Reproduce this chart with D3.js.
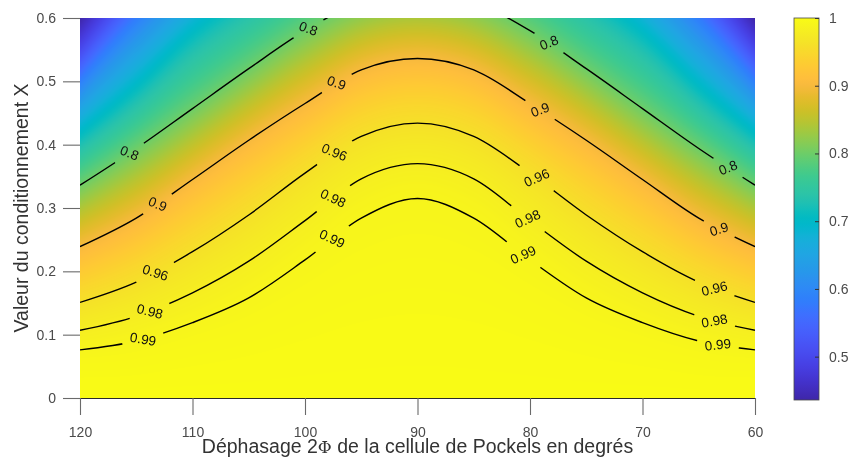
<!DOCTYPE html>
<html><head><meta charset="utf-8">
<script src="https://cdn.jsdelivr.net/npm/d3@7"></script>
<style>
body{margin:0;background:#fff;}
#wrap{position:relative;width:849px;height:459px;overflow:hidden;}
#heat{position:absolute;left:80px;top:18px;}
#chart{position:absolute;left:0;top:0;}
</style>
</head><body>
<div id="wrap"><canvas id="heat" width="675" height="380"></canvas><svg id="chart" width="849" height="459"></svg></div>
<script>
// ---------- data ----------
const phases = [60, 65, 70, 75, 80, 85, 90, 95, 100, 105, 110, 115, 120];
const levelValues = [1.0, 0.99, 0.98, 0.96, 0.9, 0.8, 0.7, 0.6, 0.5, 0.43];
// y (Valeur X) where each level is reached, per phase column
const y100 = [0,0,0,0,0,0,0,0,0,0,0,0,0];
const y099 = [0.076,0.090,0.119,0.158,0.218,0.284,0.315,0.284,0.218,0.158,0.119,0.090,0.076];
const y098 = [0.107,0.129,0.166,0.216,0.280,0.346,0.370,0.346,0.280,0.216,0.166,0.129,0.107];
const y096 = [0.151,0.183,0.231,0.289,0.355,0.413,0.434,0.413,0.355,0.289,0.231,0.183,0.151];
const y090 = [0.239,0.284,0.345,0.407,0.465,0.518,0.536,0.518,0.465,0.407,0.345,0.284,0.239];
const y080 = [0.336,0.394,0.457,0.520,0.580,0.625,0.640,0.625,0.580,0.520,0.457,0.394,0.336];
const y070 = [0.420,0.495,0.580,0.645,0.700,0.745,0.760,0.745,0.700,0.645,0.580,0.495,0.420];
const y060 = [0.490,0.585,0.670,0.740,0.800,0.845,0.860,0.845,0.800,0.740,0.670,0.585,0.490];
const y050 = [0.550,0.660,0.760,0.830,0.890,0.930,0.950,0.930,0.890,0.830,0.760,0.660,0.550];
const y043 = [0.605,0.720,0.820,0.900,0.950,0.990,1.000,0.990,0.950,0.900,0.820,0.720,0.605];
const levelY = [y100, y099, y098, y096, y090, y080, y070, y060, y050, y043];

const contourLevels = [0.8, 0.9, 0.96, 0.98, 0.99];
const contourLabelText = ["0.8", "0.9", "0.96", "0.98", "0.99"];
const label080 = [115.6, 99.7, 78.3, 62.4];
const label090 = [113.1, 97.2, 79.1, 63.2];
const label096 = [113.3, 97.4, 79.4, 63.6];
const label098 = [113.8, 97.5, 80.2, 63.6];
const label099 = [114.4, 97.6, 80.6, 63.3];
const labelPhases = [label080, label090, label096, label098, label099];

const xTicks = [120, 110, 100, 90, 80, 70, 60];
const yTicks = [0, 0.1, 0.2, 0.3, 0.4, 0.5, 0.6];
const cTicks = [0.5, 0.6, 0.7, 0.8, 0.9, 1];
const cMin = 0.436, cMax = 1;

const xTitle = "Déphasage 2";
const xTitlePhi = "Φ";
const xTitleRest = " de la cellule de Pockels en degrés";
const yTitle = "Valeur du conditionnement X";

// parula colormap
const parula = [[0.2422,0.1504,0.6603],[0.2504,0.1650,0.7076],[0.2578,0.1818,0.7511],[0.2647,0.1978,0.7952],[0.2706,0.2147,0.8364],[0.2751,0.2342,0.8710],[0.2783,0.2559,0.8991],[0.2803,0.2782,0.9221],[0.2813,0.3006,0.9414],[0.2810,0.3228,0.9579],[0.2795,0.3447,0.9717],[0.2760,0.3667,0.9829],[0.2699,0.3892,0.9906],[0.2602,0.4123,0.9952],[0.2440,0.4358,0.9988],[0.2206,0.4603,0.9973],[0.1963,0.4847,0.9892],[0.1834,0.5074,0.9798],[0.1786,0.5289,0.9682],[0.1764,0.5499,0.9520],[0.1687,0.5703,0.9359],[0.1540,0.5902,0.9218],[0.1460,0.6091,0.9079],[0.1380,0.6276,0.8973],[0.1248,0.6459,0.8883],[0.1113,0.6635,0.8763],[0.0952,0.6798,0.8598],[0.0689,0.6948,0.8394],[0.0297,0.7082,0.8163],[0.0036,0.7203,0.7917],[0.0067,0.7312,0.7660],[0.0433,0.7411,0.7394],[0.0964,0.7500,0.7120],[0.1408,0.7584,0.6842],[0.1717,0.7670,0.6554],[0.1938,0.7758,0.6251],[0.2161,0.7843,0.5923],[0.2470,0.7918,0.5567],[0.2906,0.7973,0.5188],[0.3406,0.8008,0.4789],[0.3909,0.8029,0.4354],[0.4456,0.8024,0.3909],[0.5044,0.7993,0.3480],[0.5616,0.7942,0.3045],[0.6174,0.7876,0.2612],[0.6720,0.7793,0.2227],[0.7242,0.7698,0.1910],[0.7738,0.7598,0.1646],[0.8203,0.7498,0.1535],[0.8634,0.7406,0.1596],[0.9035,0.7330,0.1774],[0.9393,0.7288,0.2100],[0.9728,0.7298,0.2394],[0.9956,0.7434,0.2371],[0.9970,0.7659,0.2199],[0.9952,0.7893,0.2028],[0.9892,0.8136,0.1885],[0.9786,0.8386,0.1766],[0.9676,0.8639,0.1643],[0.9610,0.8890,0.1537],[0.9597,0.9135,0.1423],[0.9628,0.9373,0.1265],[0.9691,0.9606,0.1064],[0.9769,0.9839,0.0805]];

// ---------- helpers ----------
function monotone(xs, ys) {
  const n = xs.length, m = new Array(n).fill(0);
  for (let i = 1; i < n - 1; i++) {
    const h0 = xs[i] - xs[i-1], h1 = xs[i+1] - xs[i];
    const s0 = (ys[i] - ys[i-1]) / h0, s1 = (ys[i+1] - ys[i]) / h1;
    const p = (s0 * h1 + s1 * h0) / (h0 + h1);
    m[i] = (Math.sign(s0) + Math.sign(s1)) * Math.min(Math.abs(s0), Math.abs(s1), 0.5 * Math.abs(p)) || 0;
  }
  m[0] = (3 * (ys[1] - ys[0]) / (xs[1] - xs[0]) - m[1]) / 2;
  m[n-1] = (3 * (ys[n-1] - ys[n-2]) / (xs[n-1] - xs[n-2]) - m[n-2]) / 2;
  return function(xv) {
    if (xv <= xs[0]) return ys[0];
    if (xv >= xs[n-1]) return ys[n-1];
    let i = 0;
    while (i < n - 2 && xv > xs[i+1]) i++;
    const h = xs[i+1] - xs[i], t = (xv - xs[i]) / h;
    const t2 = t * t, t3 = t2 * t;
    return (2*t3 - 3*t2 + 1) * ys[i] + (t3 - 2*t2 + t) * h * m[i] + (-2*t3 + 3*t2) * ys[i+1] + (t3 - t2) * h * m[i+1];
  };
}

// ---------- scales ----------
const x = d3.scaleLinear().domain([120, 60]).range([80, 755]);
const y = d3.scaleLinear().domain([0, 0.6]).range([398, 18]);
const cY = d3.scaleLinear().domain([cMin, cMax]).range([400, 18]);
const parulaHex = parula.map(c => d3.rgb(c[0]*255, c[1]*255, c[2]*255).formatHex());
const parulaInterp = d3.piecewise(d3.interpolateRgb, parulaHex);
const cNorm = d3.scaleLinear().domain([cMin, cMax]).range([0, 1]).clamp(true);
const LUT = d3.range(1024).map(i => d3.rgb(parulaInterp(i / 1023)));

const levelFns = levelY.map(ys => monotone(phases, ys));

// ---------- heatmap ----------
const canvas = document.getElementById("heat");
const ctx = canvas.getContext("2d");
const CW = canvas.width, CH = canvas.height;
const img = ctx.createImageData(CW, CH);
for (let px = 0; px < CW; px++) {
  const ph = x.invert(x.range()[0] + px + 0.5);
  const ys = levelFns.map(f => f(ph));
  const g = monotone(ys, levelValues);
  for (let py = 0; py < CH; py++) {
    const yv = y.invert(y.range()[1] + py + 0.5);
    const v = g(yv);
    const c = LUT[Math.round(cNorm(v) * 1023)];
    const k = (py * CW + px) * 4;
    img.data[k] = c.r; img.data[k+1] = c.g; img.data[k+2] = c.b; img.data[k+3] = 255;
  }
}
ctx.putImageData(img, 0, 0);

// ---------- svg ----------
const svg = d3.select("#chart");
const defs = svg.append("defs");
defs.append("clipPath").attr("id", "plotclip").append("rect")
  .attr("x", 80).attr("y", 18).attr("width", 675).attr("height", 380);

const font = "'Liberation Sans', Arial, Helvetica, sans-serif";

// contour labels + mask
const mask = defs.append("mask").attr("id", "gapmask").attr("maskUnits", "userSpaceOnUse")
  .attr("x", 0).attr("y", 0).attr("width", 849).attr("height", 459);
mask.append("rect").attr("x", 0).attr("y", 0).attr("width", 849).attr("height", 459).attr("fill", "#fff");

const lineGen = d3.line().x(d => x(d[0])).y(d => y(d[1])).curve(d3.curveMonotoneX);
const contourG = svg.append("g").attr("clip-path", "url(#plotclip)");
const linesG = contourG.append("g").attr("mask", "url(#gapmask)");
const labelsG = contourG.append("g");

contourLevels.forEach((lv, li) => {
  const idx = levelValues.indexOf(lv);
  const ys = levelY[idx];
  const pts = phases.map((p, i) => [p, ys[i]]).sort((a, b) => b[0] - a[0]);
  linesG.append("path").attr("d", lineGen(pts))
    .attr("fill", "none").attr("stroke", "#000").attr("stroke-width", 1.4);
  const f = levelFns[idx];
  labelPhases[li].forEach(p => {
    const lx = x(p), ly = y(f(p));
    const a = [x(p + 0.05), y(f(p + 0.05))], b = [x(p - 0.05), y(f(p - 0.05))];
    const ang = Math.atan2(b[1] - a[1], b[0] - a[0]) * 180 / Math.PI;
    const t = labelsG.append("text").text(contourLabelText[li])
      .attr("x", 0).attr("y", 0)
      .attr("text-anchor", "middle").attr("dominant-baseline", "central")
      .attr("font-family", font).attr("font-size", 13.5).attr("fill", "#111")
      .attr("transform", `translate(${lx},${ly}) rotate(${-ang * 0.65})`);
    const tw = t.node().getComputedTextLength();
    mask.append("rect").attr("x", -(tw + 16) / 2).attr("y", -8).attr("width", tw + 16).attr("height", 16)
      .attr("fill", "#000").attr("transform", `translate(${lx},${ly}) rotate(${ang})`);
  });
});

// x axis
const xAxis = d3.axisBottom(x).tickValues(xTicks).tickSize(17).tickSizeOuter(0).tickPadding(12.5).tickFormat(d3.format("d"));
const gx = svg.append("g").attr("transform", `translate(0,${y(0)})`).call(xAxis);
gx.select(".domain").attr("stroke", "#2a2a2a").attr("stroke-width", 1.2);
gx.selectAll(".tick line").attr("stroke", "#6a6a6a").attr("stroke-width", 1.1);
gx.selectAll(".tick text").attr("font-family", font).attr("font-size", 14).attr("fill", "#4a4a4a");

// y axis
const yAxis = d3.axisLeft(y).tickValues(yTicks).tickSize(17).tickPadding(7)
  .tickFormat(d => d === 0 ? "0" : d3.format(".1f")(d));
const gy = svg.append("g").attr("transform", `translate(${x(120)},0)`).call(yAxis);
gy.select(".domain").remove();
gy.selectAll(".tick line").attr("stroke", "#6a6a6a").attr("stroke-width", 1.1);
gy.selectAll(".tick text").attr("font-family", font).attr("font-size", 14).attr("fill", "#4a4a4a");

// titles
const xt = svg.append("text").attr("x", (x.range()[0] + x.range()[1]) / 2).attr("y", 453)
  .attr("text-anchor", "middle").attr("font-family", font).attr("font-size", 19.5).attr("fill", "#333");
xt.append("tspan").text(xTitle);
xt.append("tspan").text(xTitlePhi).attr("font-family", "'DejaVu Serif', serif").attr("font-size", 17);
xt.append("tspan").text(xTitleRest);

svg.append("text").attr("transform", `translate(28,${(y.range()[0] + y.range()[1]) / 2}) rotate(-90)`)
  .attr("text-anchor", "middle").attr("font-family", font).attr("font-size", 19.5).attr("fill", "#333")
  .text(yTitle);

// colorbar
const grad = defs.append("linearGradient").attr("id", "cbgrad")
  .attr("x1", 0).attr("y1", 1).attr("x2", 0).attr("y2", 0);
parulaHex.forEach((c, i) => grad.append("stop").attr("offset", i / (parulaHex.length - 1)).attr("stop-color", c));
const cbX = 794, cbW = 25;
svg.append("rect").attr("x", cbX).attr("y", cY(cMax)).attr("width", cbW).attr("height", cY(cMin) - cY(cMax))
  .attr("fill", "url(#cbgrad)").attr("stroke", "#4a4a4a").attr("stroke-width", 0.8);
const cAxis = d3.axisRight(cY).tickValues(cTicks).tickSize(-4).tickSizeOuter(0).tickPadding(10)
  .tickFormat(d => d === 1 ? "1" : d3.format(".1f")(d));
const gc = svg.append("g").attr("transform", `translate(${cbX + cbW},0)`).call(cAxis);
gc.select(".domain").remove();
gc.selectAll(".tick line").attr("stroke", "#333").attr("stroke-width", 1);
gc.selectAll(".tick text").attr("font-family", font).attr("font-size", 14).attr("fill", "#4a4a4a");
</script>
</body></html>
